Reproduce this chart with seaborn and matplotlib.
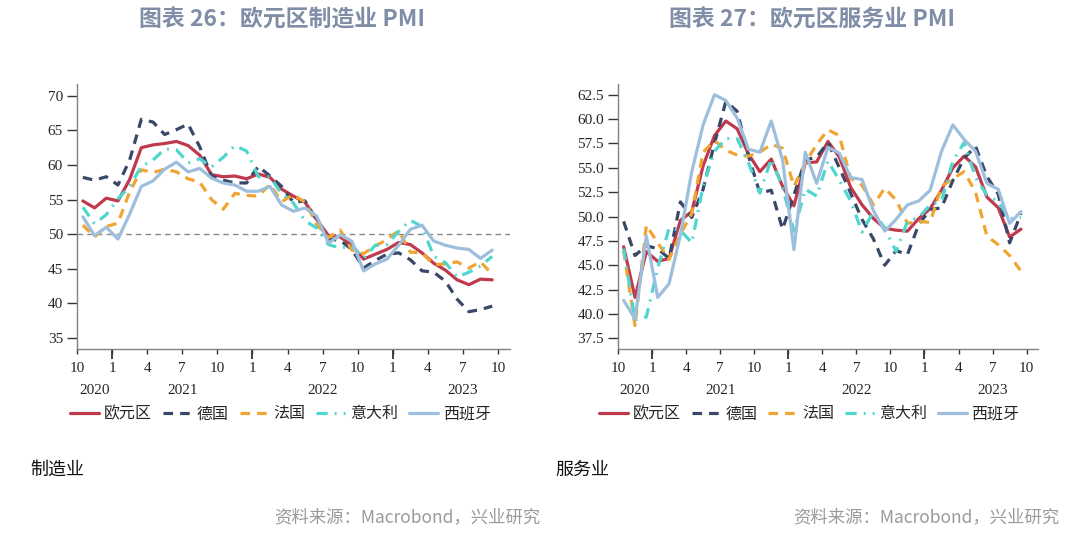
import matplotlib
matplotlib.use('Agg')
import matplotlib.pyplot as plt
import pandas as pd
import seaborn as sns

# Monthly PMI, Oct 2020 - Sep 2023
countries = ['欧元区', '德国', '法国', '意大利', '西班牙']

mfg_ez = [54.8, 53.8, 55.2, 54.8, 57.9, 62.5, 62.9, 63.1, 63.4, 62.8, 61.4, 58.6,
          58.3, 58.4, 58.0, 58.7, 58.2, 56.5, 55.5, 54.6, 52.1, 49.8, 49.6, 48.4,
          46.4, 47.1, 47.8, 48.8, 48.5, 47.3, 45.8, 44.8, 43.4, 42.7, 43.5, 43.4]
mfg_de = [58.2, 57.8, 58.3, 57.1, 60.7, 66.6, 66.2, 64.4, 65.1, 65.9, 62.6, 58.4,
          57.8, 57.4, 57.4, 59.8, 58.4, 56.9, 54.6, 54.8, 52.0, 49.3, 49.1, 47.8,
          45.1, 46.2, 47.1, 47.3, 46.3, 44.7, 44.5, 43.2, 40.6, 38.8, 39.1, 39.6]
mfg_fr = [51.3, 49.6, 51.1, 51.6, 56.1, 59.3, 58.9, 59.4, 59.0, 58.0, 57.5, 55.0,
          53.6, 55.9, 55.6, 55.5, 57.2, 54.7, 55.7, 54.6, 51.4, 49.5, 50.6, 47.7,
          47.2, 48.3, 49.2, 50.5, 47.4, 47.3, 45.6, 45.7, 46.0, 45.1, 46.0, 44.2]
mfg_it = [53.9, 51.5, 52.8, 55.1, 56.9, 59.8, 60.7, 62.3, 62.2, 60.3, 60.9, 59.7,
          61.1, 62.8, 62.0, 58.3, 58.3, 55.8, 54.5, 51.9, 50.9, 48.5, 48.0, 48.3,
          46.5, 48.4, 48.5, 50.4, 52.0, 51.1, 46.8, 45.9, 43.8, 44.5, 45.4, 46.8]
mfg_es = [52.5, 49.8, 51.0, 49.3, 52.9, 56.9, 57.7, 59.4, 60.4, 59.0, 59.5, 58.1,
          57.4, 57.1, 56.2, 56.2, 56.9, 54.2, 53.3, 53.8, 52.6, 48.7, 49.9, 49.0,
          44.7, 45.7, 46.4, 48.4, 50.7, 51.3, 49.0, 48.4, 48.0, 47.8, 46.5, 47.7]

svc_ez = [46.9, 41.7, 46.4, 45.4, 45.7, 49.6, 50.5, 55.2, 58.3, 59.8, 59.0, 56.4,
          54.6, 55.9, 53.1, 51.1, 55.5, 55.6, 57.7, 56.1, 53.0, 51.2, 49.8, 48.8,
          48.6, 48.5, 49.8, 50.8, 52.7, 55.0, 56.2, 55.1, 52.0, 50.9, 47.9, 48.7]
svc_de = [49.5, 46.0, 47.0, 46.7, 45.7, 51.5, 49.9, 52.8, 57.5, 61.8, 60.8, 56.2,
          52.4, 52.7, 48.7, 52.2, 55.8, 56.1, 57.6, 55.0, 52.4, 49.7, 47.7, 45.0,
          46.5, 46.1, 49.2, 50.7, 50.9, 53.7, 56.0, 57.2, 54.1, 52.3, 47.3, 50.3]
svc_fr = [46.5, 38.8, 49.1, 47.3, 45.6, 48.2, 50.3, 56.6, 57.8, 56.8, 56.3, 56.2,
          56.6, 57.4, 57.0, 53.1, 55.5, 57.4, 58.9, 58.3, 53.9, 53.2, 51.2, 52.9,
          51.7, 49.3, 49.5, 49.4, 53.1, 53.9, 54.6, 52.5, 48.0, 47.1, 46.0, 44.4]
svc_it = [46.7, 39.4, 39.7, 44.7, 48.8, 48.6, 47.3, 53.1, 56.7, 58.0, 58.0, 55.5,
          52.4, 55.9, 53.0, 48.5, 52.8, 52.1, 55.7, 53.7, 51.6, 48.4, 50.5, 48.8,
          46.4, 49.5, 49.9, 51.2, 51.6, 55.7, 57.6, 54.0, 52.2, 51.5, 49.8, 49.9]
svc_es = [41.4, 39.5, 48.0, 41.7, 43.1, 48.1, 54.6, 59.4, 62.5, 61.9, 60.1, 56.9,
          56.6, 59.8, 55.8, 46.6, 56.6, 53.4, 57.1, 56.5, 54.0, 53.8, 50.6, 48.5,
          49.7, 51.2, 51.6, 52.7, 56.7, 59.4, 57.9, 56.7, 53.4, 52.8, 49.3, 50.5]

tick_labels = ['10', '1', '4', '7', '10', '1', '4', '7', '10', '1', '4', '7', '10']
year_labels = ['2020', '2021', '2022', '2023']

palette = {'欧元区': '#c0394d', '德国': '#3a4868', '法国': '#f0a532',
           '意大利': '#4ed6cf', '西班牙': '#9dbedc'}
dashes = {'欧元区': '', '德国': (3, 2.2), '法国': (3, 2.2),
          '意大利': (3.5, 2.2, 0.6, 2.2), '西班牙': ''}


def make_df(series):
    rows = []
    for name, vals in zip(countries, series):
        for i, v in enumerate(vals):
            rows.append({'month': i + 0.5, 'value': v, 'country': name})
    return pd.DataFrame(rows)


df_mfg = make_df([mfg_ez, mfg_de, mfg_fr, mfg_it, mfg_es])
df_svc = make_df([svc_ez, svc_de, svc_fr, svc_it, svc_es])

sns.set_style('white')
plt.rcParams['font.family'] = ['Noto Sans CJK SC', 'DejaVu Sans']

fig = plt.figure(figsize=(10.8, 5.37), dpi=100)
ax1 = fig.add_axes([0.0713, 0.350, 0.4007, 0.4936])
ax2 = fig.add_axes([0.5722, 0.350, 0.3889, 0.4936])


def draw(ax, df, ylim, yticks, yfmt, leg_x):
    sns.lineplot(data=df, x='month', y='value', hue='country', style='country',
                 palette=palette, dashes=dashes, hue_order=countries,
                 style_order=countries, lw=2.3, ax=ax)
    ax.set_xlim(0, 37)
    ax.set_ylim(*ylim)
    ax.set_xlabel('')
    ax.set_ylabel('')
    for s in ['top', 'right']:
        ax.spines[s].set_visible(False)
    for s in ['left', 'bottom']:
        ax.spines[s].set_color('#808080')
        ax.spines[s].set_linewidth(1.0)
    ax.set_yticks(yticks)
    ax.set_yticklabels([yfmt % v for v in yticks], fontfamily='Liberation Serif', fontsize=11)
    ax.set_xticks(range(0, 37, 3))
    ax.set_xticklabels(tick_labels, fontfamily='Liberation Serif', fontsize=11)
    ax.xaxis.remove_overlapping_locs = False
    ax.set_xticks([3, 15, 27], minor=True)
    ax.tick_params(axis='x', which='major', direction='out', length=3.5, width=1, color='#333333', pad=6,
                   bottom=True)
    ax.tick_params(axis='x', which='minor', direction='out', length=7, width=1.3, color='#333333',
                   bottom=True)
    ax.tick_params(axis='y', direction='out', length=7, width=1, color='#333333', pad=3, left=True)
    for x, lab in zip([1.5, 9, 21, 33], year_labels):
        ax.text(x, -0.155, lab, transform=ax.get_xaxis_transform(), ha='center', va='center',
                fontfamily='Liberation Serif', fontsize=11)
    sns.move_legend(ax, 'upper center', bbox_to_anchor=(leg_x, -0.158), ncol=5, frameon=False,
                    title=None, fontsize=11.5, handlelength=1.8, columnspacing=0.7, handletextpad=0.3)


draw(ax1, df_mfg, (33.4, 71.7), [35, 40, 45, 50, 55, 60, 65, 70], '%d', 0.47)
ax1.axhline(50, color='#888888', lw=1.0, ls=(0, (4, 3)), zorder=1)
draw(ax2, df_svc, (36.4, 63.6), [37.5, 40, 42.5, 45, 47.5, 50, 52.5, 55, 57.5, 60, 62.5], '%.1f', 0.455)

title_color = '#7f8ea6'
fig.text(0.261, 0.962, '图表 26：欧元区制造业 PMI', ha='center', va='center', fontsize=16.5,
         fontweight='bold', color=title_color)
fig.text(0.752, 0.962, '图表 27：欧元区服务业 PMI', ha='center', va='center', fontsize=16.5,
         fontweight='bold', color=title_color)

fig.text(0.028, 0.125, '制造业', ha='left', va='center', fontsize=13, color='#111111')
fig.text(0.514, 0.125, '服务业', ha='left', va='center', fontsize=13, color='#111111')

fig.text(0.500, 0.037, '资料来源：Macrobond，兴业研究', ha='right', va='center', fontsize=12.5,
         color='#9a9a9a')
fig.text(0.981, 0.037, '资料来源：Macrobond，兴业研究', ha='right', va='center', fontsize=12.5,
         color='#9a9a9a')

fig.savefig('out.png', dpi=100)
